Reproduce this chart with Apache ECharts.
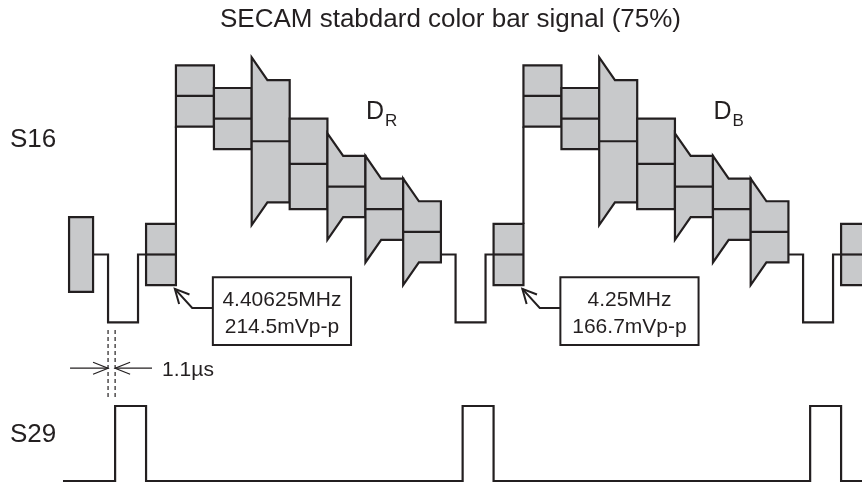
<!DOCTYPE html>
<html><head><meta charset="utf-8">
<script src="https://cdn.jsdelivr.net/npm/echarts@6/dist/echarts.min.js"></script>
<style>html,body{margin:0;padding:0;background:#fff}#c{width:862px;height:484px}</style>
</head><body><div id="c"></div>
<script>
// ===== data: time in µs (line start = sync leading edge), level in mV =====
const lineStarts = [0, 64, 128];
const blankLevel = 0;
const syncLevel = -300;
const syncEnd = 5.52;
const burstStart = 7.0;
const burstEnd = 12.5;
const burstHalf = 135;
const barNames = ['White', 'Yellow', 'Cyan', 'Green', 'Magenta', 'Red', 'Blue'];
const barEdges = [12.5, 19.5, 26.45, 33.45, 40.4, 47.4, 54.35, 61.3];
const barCenter = [700, 600, 500, 400, 300, 200, 100];
const barHalf = [135, 135, 270, 200, 135, 135, 135];
const barOvershoot = [0, 0, 100, 0, 100, 100, 100];
const overshootDur = 2.9;
const prevLineTail = [-7.18, -2.76, 0, 165];      // [start, end, centre, half]
const s29Levels = [0, 1];
const s29PulseStart = 1.3;
const s29PulseEnd = 7.0;
const s29Span = [-8.3, 140];
const burstFreq = ['4.40625MHz', '4.25MHz'];
const burstAmp = ['214.5mVp-p', '166.7mVp-p'];
const chromaName = ['D', 'D'];
const chromaSub = ['R', 'B'];
const titleText = 'SECAM stabdard color bar signal (75%)';
const dimText = '1.1\u00b5s';

// ===== styles / layout =====
const INK = '#231f20', FILL = '#c8c9cb', LW = 2.2;
const FONT = '"Liberation Sans", Arial, Helvetica, sans-serif';
const X_MIN = -19.9, X_MAX = 138.85;

// ---- block shapes (bursts and bars) ----
const blocks = [[prevLineTail[0], prevLineTail[1], prevLineTail[2], prevLineTail[3], 0, 0]];
lineStarts.forEach(L => {
  blocks.push([L + burstStart, L + burstEnd, blankLevel, burstHalf, 0, 1]);
  for (let j = 0; j < barCenter.length; j++) {
    blocks.push([L + barEdges[j], L + barEdges[j + 1], barCenter[j], barHalf[j], barOvershoot[j], 1]);
  }
});

// ---- blanking / sync path segments ----
const segments = [];
lineStarts.forEach((L, i) => {
  const from = i === 0 ? prevLineTail[1] : lineStarts[i - 1] + barEdges[barEdges.length - 1];
  segments.push([[from, blankLevel], [L, blankLevel], [L, syncLevel], [L + syncEnd, syncLevel],
                 [L + syncEnd, blankLevel], [L + burstStart, blankLevel]]);
  segments.push([[L + burstEnd, blankLevel + burstHalf], [L + burstEnd, barCenter[0] - barHalf[0]]]);
});

// ---- S29 pulse train ----
const s29 = [[s29Span[0], s29Levels[0]]];
lineStarts.forEach(L => {
  s29.push([L + s29PulseStart, s29Levels[0]], [L + s29PulseStart, s29Levels[1]],
           [L + s29PulseEnd, s29Levels[1]], [L + s29PulseEnd, s29Levels[0]]);
});
s29.push([s29Span[1], s29Levels[0]]);

function arrowHead(tip, from, len, half) {
  const dx = tip[0] - from[0], dy = tip[1] - from[1], d = Math.hypot(dx, dy);
  const ux = dx / d, uy = dy / d, bx = tip[0] - ux * len, by = tip[1] - uy * len;
  return [[bx - uy * half, by + ux * half], tip, [bx + uy * half, by - ux * half]];
}

function renderBlock(params, api) {
  const t0 = api.value(0), t1 = api.value(1), c = api.value(2), h = api.value(3), o = api.value(4), mid = api.value(5);
  const P = (t, v) => api.coord([t, v]);
  let pts;
  if (o > 0) {
    const td = t0 + overshootDur;
    pts = [P(t0, c + h + o), P(td, c + h), P(t1, c + h), P(t1, c - h), P(td, c - h), P(t0, c - h - o)];
  } else {
    pts = [P(t0, c + h), P(t1, c + h), P(t1, c - h), P(t0, c - h)];
  }
  const children = [{ type: 'polygon', shape: { points: pts },
    style: { fill: FILL, stroke: INK, lineWidth: LW, lineJoin: 'miter' } }];
  if (mid) {
    const a = P(t0, c), b = P(t1, c);
    children.push({ type: 'line', shape: { x1: a[0], y1: a[1], x2: b[0], y2: b[1] },
      style: { stroke: INK, lineWidth: LW } });
  }
  return { type: 'group', children };
}

// annotation box for each chroma line (anchored to the line's burst)
function renderBox(params, api) {
  const i = params.dataIndex, L = lineStarts[i];
  const P = (t, v) => api.coord([t, v]);
  const tl = P(L + 19.3, -100), br = P(L + 44.75, -400);
  const elbowY = P(L + 19.3, -236);
  const elbow = P(L + 15.5, -236);
  const tip = P(L + 12.3, -152);
  const head = arrowHead(tip, elbow, 14, 7);
  return { type: 'group', children: [
    { type: 'rect', shape: { x: tl[0], y: tl[1], width: br[0] - tl[0], height: br[1] - tl[1] },
      style: { fill: '#fff', stroke: INK, lineWidth: 2 } },
    { type: 'text', x: (tl[0] + br[0]) / 2, y: (tl[1] + br[1]) / 2 + 2.5,
      style: { text: burstFreq[i] + '\n' + burstAmp[i], align: 'center', verticalAlign: 'middle',
        fontSize: 21, fontFamily: FONT, lineHeight: 27, fill: INK } },
    { type: 'polyline', shape: { points: [elbowY, elbow, tip] }, style: { stroke: INK, lineWidth: 2, fill: null } },
    { type: 'polyline', shape: { points: head }, style: { stroke: INK, lineWidth: 2, fill: null } },
    { type: 'text', x: P(L + 47.5, 0)[0], y: P(0, 629)[1],
      style: { text: chromaName[i], align: 'left', verticalAlign: 'middle', fontSize: 25, fontFamily: FONT, fill: INK } },
    { type: 'text', x: P(L + 51.0, 0)[0], y: P(0, 589)[1],
      style: { text: chromaSub[i], align: 'left', verticalAlign: 'middle', fontSize: 17, fontFamily: FONT, fill: INK } }
  ]};
}

// 1.1 µs dimension between sync edge and S29 pulse start
function renderDim(params, api) {
  const P = (t, v) => api.coord([t, v]);
  const t0 = lineStarts[0], t1 = lineStarts[0] + s29PulseStart;
  const a0 = P(t0, -333), a1 = P(t0, -633), b0 = P(t1, -333), b1 = P(t1, -633);
  const y = P(0, -502)[1];
  const lTip = [a0[0], y], lFrom = [P(-7, 0)[0], y];
  const rTip = [b0[0], y], rFrom = [P(8.1, 0)[0], y];
  const dash = { stroke: INK, lineWidth: 1.2, lineDash: [4, 3] };
  const thin = { stroke: INK, lineWidth: 1.2, fill: null };
  return { type: 'group', children: [
    { type: 'line', shape: { x1: a0[0], y1: a0[1], x2: a1[0], y2: a1[1] }, style: dash },
    { type: 'line', shape: { x1: b0[0], y1: b0[1], x2: b1[0], y2: b1[1] }, style: dash },
    { type: 'polyline', shape: { points: [lFrom, lTip] }, style: thin },
    { type: 'polyline', shape: { points: arrowHead(lTip, lFrom, 15, 6) }, style: thin },
    { type: 'polyline', shape: { points: [rFrom, rTip] }, style: thin },
    { type: 'polyline', shape: { points: arrowHead(rTip, rFrom, 15, 6) }, style: thin },
    { type: 'text', x: P(9.95, 0)[0], y: P(0, -510)[1],
      style: { text: dimText, align: 'left', verticalAlign: 'middle', fontSize: 21, fontFamily: FONT, fill: INK } }
  ]};
}

const lineStyle = { color: INK, width: LW, join: 'miter', cap: 'butt' };
const series = [];
segments.forEach(seg => series.push({
  type: 'line', xAxisIndex: 0, yAxisIndex: 0, data: seg, symbol: 'none',
  lineStyle, silent: true, animation: false, z: 2
}));
series.push({
  type: 'custom', xAxisIndex: 0, yAxisIndex: 0, data: blocks, renderItem: renderBlock,
  encode: { x: [0, 1], y: [2] }, clip: true, silent: true, animation: false, z: 3
});
series.push({
  type: 'line', xAxisIndex: 1, yAxisIndex: 1, data: s29, symbol: 'none',
  lineStyle, silent: true, animation: false, z: 2
});
series.push({
  type: 'custom', xAxisIndex: 0, yAxisIndex: 0, data: burstFreq.map((f, i) => [lineStarts[i], 0]),
  renderItem: renderBox, encode: { x: 0, y: 1 }, clip: false, silent: true, animation: false, z: 4
});
series.push({
  type: 'custom', xAxisIndex: 0, yAxisIndex: 0, data: [[lineStarts[0], 0]],
  renderItem: renderDim, encode: { x: 0, y: 1 }, clip: false, silent: true, animation: false, z: 4
});

const chart = echarts.init(document.getElementById('c'), null, { renderer: 'canvas' });
chart.setOption({
  backgroundColor: '#fff',
  animation: false,
  grid: [
    { left: 0, right: 0, top: 28, height: 453 },
    { left: 0, right: 0, top: 406, height: 75 }
  ],
  xAxis: [
    { type: 'value', gridIndex: 0, min: X_MIN, max: X_MAX, show: false },
    { type: 'value', gridIndex: 1, min: X_MIN, max: X_MAX, show: false }
  ],
  yAxis: [
    { type: 'value', gridIndex: 0, min: -1000, max: 1000, show: false },
    { type: 'value', gridIndex: 1, min: 0, max: 1, show: false }
  ],
  graphic: [
    { type: 'text', x: 220, y: 19.5, style: { text: titleText, fontSize: 26, fontFamily: FONT, fill: INK, align: 'left', verticalAlign: 'middle' } },
    { type: 'text', x: 10, y: 140, style: { text: 'S16', fontSize: 26, fontFamily: FONT, fill: INK, align: 'left', verticalAlign: 'middle' } },
    { type: 'text', x: 10, y: 435, style: { text: 'S29', fontSize: 26, fontFamily: FONT, fill: INK, align: 'left', verticalAlign: 'middle' } }
  ],
  series
});
</script></body></html>
